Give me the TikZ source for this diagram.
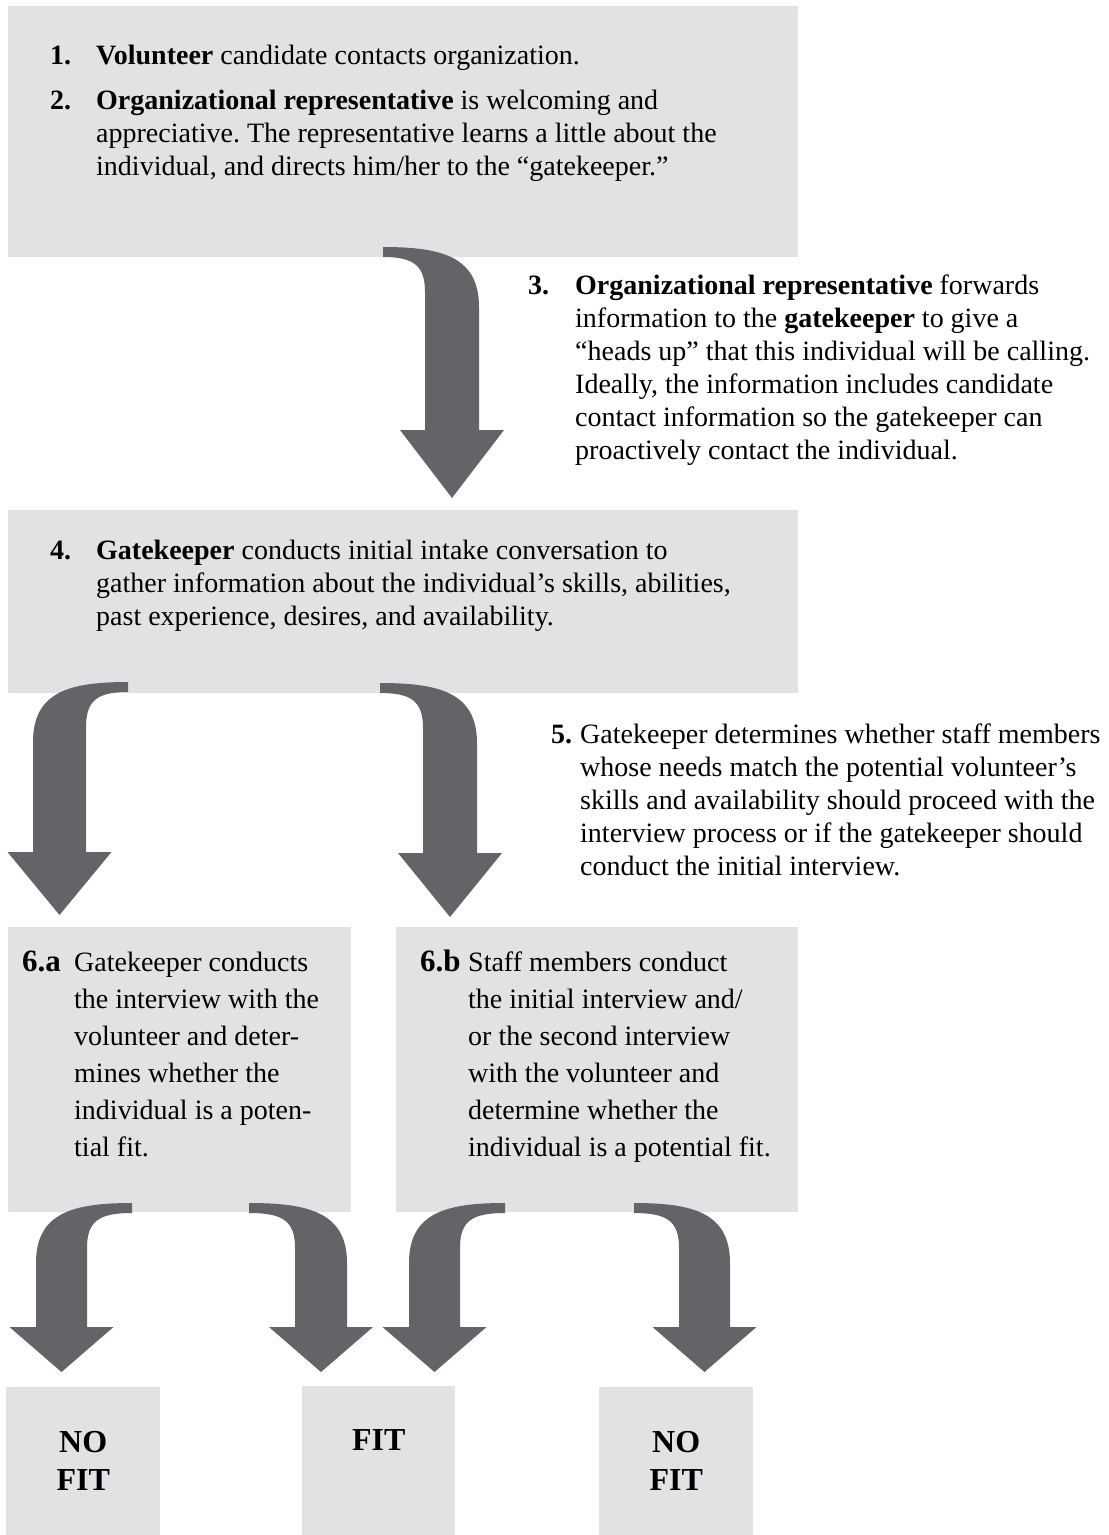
\documentclass[tikz,border=0pt]{standalone}
\usepackage{fontspec}
\setmainfont{Liberation Serif}
\frenchspacing
\definecolor{boxgray}{HTML}{E1E2E4}
\definecolor{arrowgray}{HTML}{636467}
\newcommand{\bodyfont}{\fontsize{28}{33}\selectfont}
\newcommand{\sixfont}{\fontsize{28}{37}\selectfont}
\newcommand{\sixnumfont}{\fontsize{31}{37}\selectfont\bfseries}
\newcommand{\fitfont}{\fontsize{32}{38}\selectfont\bfseries}
\newcommand{\para}[2]{\parbox[t]{#1pt}{\raggedright #2}}
% right-turning curved arrow: xs, ytop, shaft left, shaft right, head top, tip y
\newcommand{\rarrow}[6]{%
  \fill[arr] (#1,#2) .. controls ({#1+0.62*(#4-#1)},#2) and (#4,{#2+10}) .. (#4,{#2+60})
    -- (#4,#5) -- ({(#3+#4)/2+52},#5) -- ({(#3+#4)/2},#6) -- ({(#3+#4)/2-52},#5)
    -- (#3,#5) -- (#3,{#2+45}) .. controls (#3,{#2+18}) and ({#3-12},{#2+10}) .. (#1,{#2+10}) -- cycle;}
% left-turning curved arrow: xs, ytop, shaft left, shaft right, head top, tip y
\newcommand{\larrow}[6]{%
  \fill[arr] (#1,#2) .. controls ({#1-0.62*(#1-#3)},#2) and (#3,{#2+10}) .. (#3,{#2+60})
    -- (#3,#5) -- ({(#3+#4)/2-52},#5) -- ({(#3+#4)/2},#6) -- ({(#3+#4)/2+52},#5)
    -- (#4,#5) -- (#4,{#2+45}) .. controls (#4,{#2+18}) and ({#4+12},{#2+10}) .. (#1,{#2+10}) -- cycle;}
\tikzset{
  box/.style={fill=boxgray, draw=none, anchor=north west, inner sep=0pt},
  arr/.style={fill=arrowgray, draw=none},
  num/.style={anchor=base west, inner sep=0pt, font=\bodyfont\bfseries},
  txt/.style={anchor=base west, inner sep=0pt, font=\bodyfont},
  sixnum/.style={anchor=base west, inner sep=0pt, font=\sixnumfont},
  sixtxt/.style={anchor=base west, inner sep=0pt, font=\sixfont},
  fit/.style={anchor=base, inner sep=0pt, font=\fitfont},
}
\begin{document}
\begin{tikzpicture}[x=1pt,y=-1pt]
\useasboundingbox (0,0) rectangle (1109,1535);
% boxes
\node[box, minimum width=790pt, minimum height=251pt] (b1) at (8,6) {};
\node[box, minimum width=790pt, minimum height=183pt] (b4) at (8,510) {};
\node[box, minimum width=343pt, minimum height=285pt] (b6a) at (8,927) {};
\node[box, minimum width=402pt, minimum height=285pt] (b6b) at (396,927) {};
\node[box, minimum width=154pt, minimum height=148pt] (nf1) at (6,1387) {};
\node[box, minimum width=153pt, minimum height=149pt] (fitb) at (302,1386) {};
\node[box, minimum width=154pt, minimum height=148pt] (nf2) at (599,1387) {};
% texts
\node[num] (n1) at (50,64) {1.};
\node[txt] (t1) at (96,64) {\textbf{Volunteer} candidate contacts organization.};
\node[num] (n2) at (50,109) {2.};
\node[txt] (t2) at (96,109) {\para{700}{\textbf{Organizational representative} is welcoming and\\
appreciative. The representative learns a little about the\\
individual, and directs him/her to the “gatekeeper.”}};
\node[num] (n3) at (528,294) {3.};
\node[txt] (t3) at (575,294) {\para{600}{\textbf{Organizational representative} forwards\\
information to the \textbf{gatekeeper} to give a\\
“heads up” that this individual will be calling.\\
Ideally, the information includes candidate\\
contact information so the gatekeeper can\\
proactively contact the individual.}};
\node[num] (n4) at (50,559) {4.};
\node[txt] (t4) at (96,559) {\para{700}{\textbf{Gatekeeper} conducts initial intake conversation to\\
gather information about the individual’s skills, abilities,\\
past experience, desires, and availability.}};
\node[num] (n5) at (551,743) {5.};
\node[txt] (t5) at (580,743) {\para{600}{Gatekeeper determines whether staff members\\
whose needs match the potential volunteer’s\\
skills and availability should proceed with the\\
interview process or if the gatekeeper should\\
conduct the initial interview.}};
\node[sixnum] (n6a) at (22,971) {6.a};
\node[sixtxt] (t6a) at (74,971) {\para{400}{Gatekeeper conducts\\
the interview with the\\
volunteer and deter-\\
mines whether the\\
individual is a poten-\\
tial fit.}};
\node[sixnum] (n6b) at (420,971) {6.b};
\node[sixtxt] (t6b) at (468,971) {\para{400}{Staff members conduct\\
the initial interview and/\\
or the second interview\\
with the volunteer and\\
determine whether the\\
individual is a potential fit.}};
\node[fit] (nf1t) at (nf1.north |- 0,1452) {\parbox[t]{140pt}{\centering NO\\FIT}};
\node[fit] (fitt) at (fitb.north |- 0,1450) {FIT};
\node[fit] (nf2t) at (nf2.north |- 0,1452) {\parbox[t]{140pt}{\centering NO\\FIT}};
% arrows
\rarrow{383}{247}{425}{479}{430}{498}
\larrow{128}{682}{33}{86}{852}{915}
\rarrow{380}{683}{423}{477}{853}{917}
\larrow{132}{1203}{36}{87}{1327}{1372}
\rarrow{249}{1203}{295}{347}{1327}{1372}
\larrow{505}{1203}{409}{460}{1327}{1372}
\rarrow{634}{1203}{679}{730}{1327}{1372}
\end{tikzpicture}
\end{document}
